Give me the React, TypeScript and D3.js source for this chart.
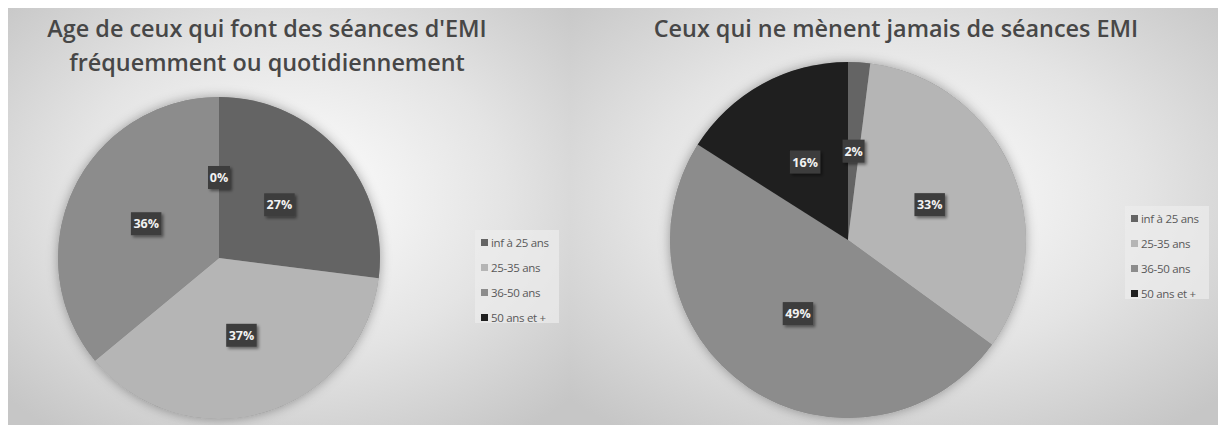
import { useMemo } from "react";
import * as d3 from "d3";

// tranches d'âge (légende commune)
const categories = ["inf à 25 ans", "25-35 ans", "36-50 ans", "50 ans et +"];
const sliceColors = ["#646464", "#b5b5b5", "#8c8c8c", "#1f1f1f"];

// séances fréquentes / quotidiennes
const frequentValues = [27, 37, 36, 0];
// jamais de séances
const neverValues = [2, 33, 49, 16];

const frequentTitle = ["Age de ceux qui font des séances d'EMI", "fréquemment ou quotidiennement"];
const neverTitle = ["Ceux qui ne mènent jamais de séances EMI"];

const FONT = "'Open Sans', 'DejaVu Sans', sans-serif";

type PanelProps = {
  id: string;
  x: number;
  width: number;
  height: number;
  title: string[];
  titleX: number;
  values: number[];
  cx: number;
  cy: number;
  radius: number;
  legendX: number;
  legendY: number;
};

const Panel = ({ id, x, width, height, title, titleX, values, cx, cy, radius, legendX, legendY }: PanelProps) => {
  const arcs = useMemo(() => d3.pie<number>().sort(null).value((d) => d)(values), [values]);
  const arc = d3.arc<d3.PieArcDatum<number>>().innerRadius(0).outerRadius(radius);
  const total = d3.sum(values);
  const fmt = (v: number) => `${Math.round((v / total) * 100)}%`;
  const color = d3.scaleOrdinal<string, string>().domain(categories).range(sliceColors);
  const legendY0 = d3.scalePoint<string>().domain(categories).range([0, 75]);

  return (
    <g transform={`translate(${x},8)`}>
      <defs>
        <radialGradient id={`bg-${id}`} cx="50%" cy="45%" r="70%">
          <stop offset="0%" stopColor="#ffffff" />
          <stop offset="55%" stopColor="#e4e4e4" />
          <stop offset="100%" stopColor="#c6c6c6" />
        </radialGradient>
        <filter id={`sh-${id}`} x="-20%" y="-20%" width="140%" height="140%">
          <feDropShadow dx="0" dy="0" stdDeviation="6" floodColor="#000" floodOpacity="0.35" />
        </filter>
        <filter id={`lsh-${id}`} x="-30%" y="-30%" width="160%" height="160%">
          <feDropShadow dx="2" dy="2" stdDeviation="1.5" floodColor="#000" floodOpacity="0.45" />
        </filter>
      </defs>
      <rect width={width} height={height} fill={`url(#bg-${id})`} />
      {title.map((t, i) => (
        <text
          key={i}
          x={titleX - x}
          y={29 + i * 34}
          textAnchor="middle"
          fontFamily={FONT}
          fontWeight={600}
          fontSize={23.4}
          fill="#474747"
        >
          {t}
        </text>
      ))}
      <g transform={`translate(${cx - x},${cy - 8})`}>
        <circle r={radius} fill="#888" filter={`url(#sh-${id})`} />
        {arcs.map((a, i) => (
          <path key={i} d={arc(a) ?? ""} fill={color(categories[i])} />
        ))}
        {arcs.map((a, i) => {
          const [lx, ly] = arc.centroid(a);
          const label = fmt(values[i]);
          const w = label.length * 8.5 + 5;
          return (
            <g key={`l${i}`} transform={`translate(${lx},${ly})`}>
              <rect x={-w / 2} y={-11.5} width={w} height={23} fill="#3d3d3d" filter={`url(#lsh-${id})`} />
              <text
                y={4.5}
                textAnchor="middle"
                fontFamily={FONT}
                fontWeight={700}
                fontSize={12.5}
                fill="#f2f2f2"
              >
                {label}
              </text>
            </g>
          );
        })}
      </g>
      <g transform={`translate(${legendX - x},${legendY - 8})`}>
        <rect x={0} y={0} width={84} height={93} fill="#ececec" opacity={0.7} />
        {categories.map((c) => (
          <g key={c} transform={`translate(6,${13 + (legendY0(c) ?? 0)})`}>
            <rect x={0} y={-4} width={7} height={7} fill={color(c)} />
            <text x={10} y={4} fontFamily={FONT} fontSize={11.5} fill="#595959" letterSpacing={-0.3}>
              {c}
            </text>
          </g>
        ))}
      </g>
    </g>
  );
};

export default function App() {
  return (
    <svg
      width={1218}
      height={425}
      style={{ position: "absolute", left: 0, top: 0, background: "#fff" }}
    >
      <Panel
        id="a"
        x={8}
        width={562}
        height={417}
        title={frequentTitle}
        titleX={267}
        values={frequentValues}
        cx={219}
        cy={258}
        radius={161}
        legendX={475}
        legendY={230}
      />
      <Panel
        id="b"
        x={570}
        width={648}
        height={417}
        title={neverTitle}
        titleX={896}
        values={neverValues}
        cx={848}
        cy={240}
        radius={178}
        legendX={1125}
        legendY={206}
      />
    </svg>
  );
}
